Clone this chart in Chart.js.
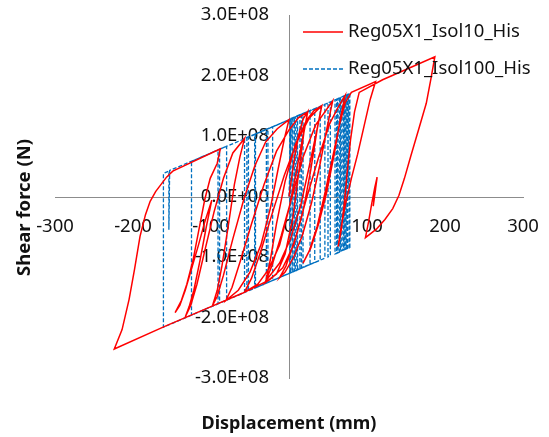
<!DOCTYPE html>
<html>
<head>
<meta charset="utf-8">
<script src="https://cdn.jsdelivr.net/npm/chart.js@4.4.1/dist/chart.umd.min.js"></script>
<style>
  html, body { margin: 0; padding: 0; background: #fff; }
</style>
</head>
<body>
<canvas id="grafico" width="549" height="437"></canvas>
<script>
// Séries: deslocamento (mm) e força cortante (em unidades de 1E+08 N)
const seriesNames = ['Reg05X1_Isol10_His', 'Reg05X1_Isol100_His'];

const redX = [0, 6, 12, 18, 24, 19, 13, 5, -5, -16, -30, -24, -16, -5, 8, 22, 32, 42, 36, 28,
  18, 6, -8, -25, -60, -100, -160, -224, -214, -205, -198, -191, -184, -178, -171, -164, -157, -149, -88, -92,
  -101, -108, -114, -123, -131, -138, -146, -140, -133, -125, -116, -108, -99, -106, -114, -122, -128, -133, -126, -118,
  -108, -96, -84, -72, -57, -63, -70, -78, -86, -92, -98, -92, -84, -72, -58, -44, -30, -15, 0, -6,
  -14, -24, -36, -50, -65, -81, -73, -62, -48, -32, -16, 0, 12, 24, 18, 10, 0, -12, -26, -40,
  -57, -48, -36, -22, -6, 10, 26, 42, 35, 26, 15, 2, -12, -30, -22, -10, 4, 18, 34, 56,
  49, 40, 29, 17, 6, -5, -12, -4, 8, 22, 38, 52, 64, 72, 66, 58, 48, 38, 28, 18,
  26, 36, 46, 56, 65, 72, 80, 111, 104, 96, 88, 80, 72, 67, 63, 67, 71, 75, 79, 84,
  90, 120, 150, 187, 182, 176, 166, 156, 148, 141, 133, 123, 112, 98, 102, 106, 110, 113, 108, 111,
  107, 109, 108];
const redY = [0, 0.55, 1.0, 1.28, 1.40, 1.05, 0.45, -0.35, -0.95, -1.28, -1.42, -1.05, -0.45, 0.25, 0.85, 1.25, 1.42, 1.50, 1.1, 0.45,
  -0.25, -0.8, -1.18, -1.38, -1.6, -1.82, -2.15, -2.52, -2.2, -1.7, -1.2, -0.66, -0.3, -0.08, 0.08, 0.2, 0.32, 0.42, 0.79, 0.55,
  0.3, -0.05, -0.45, -1.05, -1.45, -1.72, -1.92, -1.8, -1.55, -1.2, -0.8, -0.42, -0.06, -0.5, -1.05, -1.55, -1.82, -1.99, -1.8, -1.45,
  -0.9, -0.25, 0.3, 0.72, 0.96, 0.65, 0.2, -0.5, -1.15, -1.55, -1.8, -1.65, -1.3, -0.7, -0.05, 0.5, 0.9, 1.12, 1.27, 0.95,
  0.45, -0.2, -0.8, -1.25, -1.55, -1.72, -1.5, -1.05, -0.45, 0.2, 0.75, 1.1, 1.3, 1.4, 1.0, 0.45, -0.2, -0.8, -1.2, -1.45,
  -1.58, -1.35, -0.9, -0.3, 0.35, 0.9, 1.3, 1.5, 1.05, 0.5, -0.15, -0.7, -1.1, -1.4, -1.15, -0.65, 0.0, 0.65, 1.18, 1.58,
  1.15, 0.55, -0.1, -0.65, -1.0, -1.25, -1.34, -1.15, -0.7, -0.05, 0.65, 1.2, 1.5, 1.67, 1.3, 0.7, 0.05, -0.45, -0.85, -1.1,
  -0.9, -0.5, 0.05, 0.65, 1.2, 1.55, 1.72, 1.9, 1.6, 1.15, 0.7, 0.3, -0.15, -0.5, -0.83, -0.55, -0.1, 0.45, 0.95, 1.4,
  1.72, 1.93, 2.1, 2.31, 1.95, 1.54, 1.1, 0.66, 0.3, 0.02, -0.2, -0.38, -0.54, -0.68, -0.42, -0.12, 0.15, 0.32, -0.16, 0.12,
  -0.08, 0.05, 0.0];

const blueX = [0, 3, 11, 11, 4, 4, 7, 7, 1, 1, 16, 16, 5, 5, 18, 18, -21, -21, 27, 27,
  -27, -27, 33, 33, -43, -43, 40, 40, -52, -52, 46, 46, -161, -161, -154, -154, -153, -89, -89, -125,
  -125, -80, -80, -91, -91, -54, -54, -57, -57, -29, -29, -44, -44, 8, 8, 2, 2, 14, 14, 10,
  10, 53, 53, 50, 50, 62, 62, 59, 59, 66, 66, 61, 61, 65, 65, 63, 63, 70, 70, 67,
  67, 74, 74, 69, 69, 73, 73, 71, 71, 78, 78, 75, 75, 77, 77, 72, 72, 76, 76];
const blueY = [0, 1.29, 1.33, -1.21, -1.25, 1.29, 1.31, -1.23, -1.26, 1.28, 1.36, -1.18, -1.24, 1.30, 1.37, -1.17, -1.39, 1.15, 1.42, -1.12,
  -1.42, 1.12, 1.45, -1.09, -1.51, 1.03, 1.49, -1.05, -1.56, 0.98, 1.52, -1.02, -2.16, 0.38, 0.42, -0.55, 0.43, 0.78, -1.76, -1.96,
  0.58, 0.83, -1.71, -1.77, 0.77, 0.97, -1.57, -1.58, 0.96, 1.11, -1.43, -1.51, 1.03, 1.31, -1.23, -1.26, 1.28, 1.35, -1.19, -1.22,
  1.33, 1.56, -0.98, -1.0, 1.55, 1.61, -0.93, -0.95, 1.6, 1.63, -0.91, -0.94, 1.61, 1.63, -0.91, -0.92, 1.62, 1.66, -0.88, -0.9,
  1.64, 1.68, -0.86, -0.89, 1.65, 1.67, -0.87, -0.88, 1.66, 1.7, -0.84, -0.86, 1.68, 1.69, -0.85, -0.87, 1.67, 1.69, 0.2];

const forceUnit = 1e8;

// Eixos
const xTicks = [-300, -200, -100, 0, 100, 200, 300];
const xTickLabels = ['-300', '-200', '-100', '0', '100', '200', '300'];
const yTicks = [-3e8, -2e8, -1e8, 0, 1e8, 2e8, 3e8];
const yTickLabels = ['-3.0E+08', '-2.0E+08', '-1.0E+08', '0.0E+00', '1.0E+08', '2.0E+08', '3.0E+08'];

const fonte = "'Noto Sans', sans-serif";
const corTexto = '#111111';

function toPoints(xs, ys) {
    return xs.map((x, i) => ({ x: x, y: ys[i] * forceUnit }));
}

// Legenda desenhada dentro da área do gráfico (canto superior direito)
const legendaInterna = {
    id: 'legendaInterna',
    afterDraw(chart) {
        const { ctx, chartArea } = chart;
        ctx.save();
        ctx.font = '18.5px ' + fonte;
        ctx.textBaseline = 'middle';
        ctx.textAlign = 'left';
        chart.data.datasets.forEach((ds, i) => {
            const y = chartArea.top + 17 + i * 37;
            const x0 = chartArea.left + 248;
            ctx.beginPath();
            ctx.setLineDash(ds.borderDash || []);
            ctx.strokeStyle = ds.borderColor;
            ctx.lineWidth = ds.borderWidth;
            ctx.moveTo(x0, y);
            ctx.lineTo(x0 + 40, y);
            ctx.stroke();
            ctx.setLineDash([]);
            ctx.fillStyle = corTexto;
            ctx.fillText(ds.label, x0 + 45, y);
        });
        ctx.restore();
    }
};

const ctx = document.getElementById('grafico').getContext('2d');
new Chart(ctx, {
    type: 'line',
    data: {
        datasets: [{
            label: seriesNames[0],
            data: toPoints(redX, redY),
            borderColor: '#ff0000',
            borderWidth: 1.5,
            pointRadius: 0,
            tension: 0,
            fill: false
        }, {
            label: seriesNames[1],
            data: toPoints(blueX, blueY),
            borderColor: '#0070c0',
            borderWidth: 1.3,
            borderDash: [4, 2],
            pointRadius: 0,
            tension: 0,
            fill: false
        }]
    },
    options: {
        responsive: false,
        animation: false,
        devicePixelRatio: 1,
        layout: { padding: { top: 15, left: 0, right: 26, bottom: 37 } },
        scales: {
            x: {
                type: 'linear',
                position: 'center',
                min: -300,
                max: 300,
                afterBuildTicks: scale => { scale.ticks = xTicks.map(v => ({ value: v })); },
                // os eixos centrais não devem empurrar a área do gráfico
                afterFit: scale => { scale.paddingLeft = 0; scale.paddingRight = 0; },
                ticks: {
                    padding: 19,
                    maxRotation: 0,
                    color: corTexto,
                    font: { family: fonte, size: 18.5 },
                    callback: v => xTickLabels[xTicks.indexOf(v)]
                },
                grid: { display: false, drawTicks: false },
                border: { display: true, color: '#8c8c8c', width: 1 }
            },
            y: {
                type: 'linear',
                position: 'center',
                min: -3e8,
                max: 3e8,
                afterBuildTicks: scale => { scale.ticks = yTicks.map(v => ({ value: v })); },
                afterFit: scale => { scale.paddingTop = 0; scale.paddingBottom = 0; },
                ticks: {
                    padding: 20,
                    color: corTexto,
                    font: { family: fonte, size: 18.5 },
                    callback: v => yTickLabels[yTicks.indexOf(v)]
                },
                grid: { display: false, drawTicks: false },
                border: { display: true, color: '#8c8c8c', width: 1 }
            }
        },
        plugins: {
            legend: { display: false },
            tooltip: { enabled: false },
            title: {
                display: true,
                position: 'bottom',
                fullSize: false,
                text: 'Displacement (mm)',
                color: corTexto,
                font: { family: fonte, size: 18, weight: 'bold' },
                padding: { top: 35.2, bottom: -34.8 }
            },
            subtitle: {
                display: true,
                position: 'left',
                fullSize: true,
                text: 'Shear force (N)',
                color: corTexto,
                font: { family: fonte, size: 18.5, weight: 'bold' },
                padding: { top: 13.9, bottom: 18.9 }
            }
        }
    },
    plugins: [legendaInterna]
});
</script>
</body>
</html>
